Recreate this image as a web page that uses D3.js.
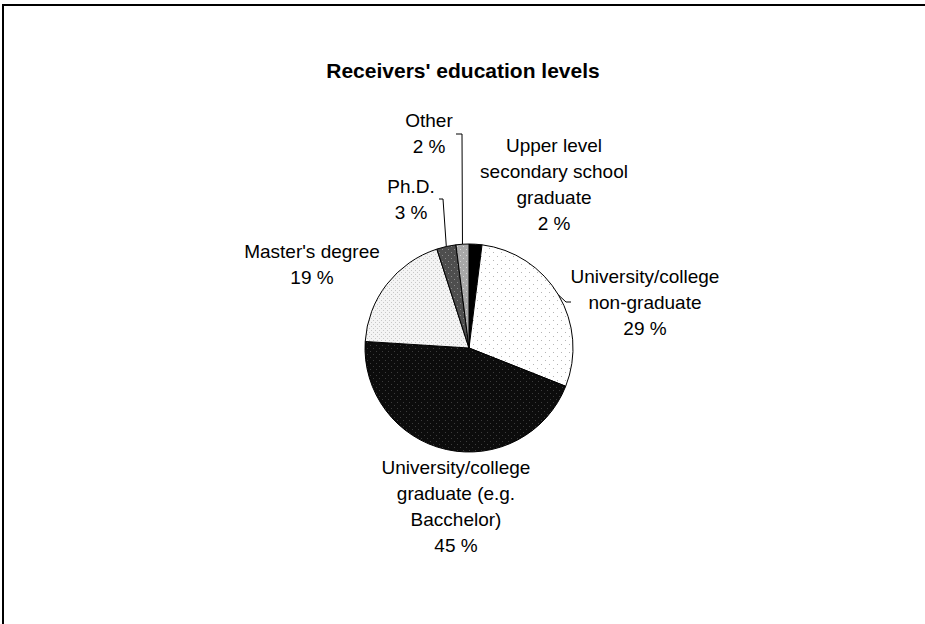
<!DOCTYPE html>
<html>
<head>
<meta charset="utf-8">
<script src="https://cdn.jsdelivr.net/npm/d3@7"></script>
<style>
  html, body { margin: 0; padding: 0; background: #fff; }
  svg { display: block; }
  text { font-family: "Liberation Sans", Arial, sans-serif; fill: #000; }
</style>
</head>
<body>
<svg id="chart" width="925" height="624"></svg>
<script>
// Education levels of receivers, in pie order (clockwise from 12 o'clock)
const categories = [
  "Upper level secondary school graduate",
  "University/college non-graduate",
  "University/college graduate (e.g. Bacchelor)",
  "Master's degree",
  "Ph.D.",
  "Other"
];
const shares = [2, 29, 45, 19, 3, 2];

// Label lines as they are broken in the chart
const labelLines = [
  ["Upper level", "secondary school", "graduate"],
  ["University/college", "non-graduate"],
  ["University/college", "graduate (e.g.", "Bacchelor)"],
  ["Master's degree"],
  ["Ph.D."],
  ["Other"]
];

const title = "Receivers' education levels";

const svg = d3.select("#chart");
const W = 925, H = 624;
const cx = 469, cy = 348, R = 104;

// Fill patterns (grey-scale dotted textures)
const defs = svg.append("defs");
const patternSpecs = [
  { id: "p0", bg: "#000000", dot: "#000000", step: 2 },
  { id: "p1", bg: "#ffffff", dot: "#b4b4b4", step: 4 },
  { id: "p2", bg: "#0c0c0c", dot: "#3c3c3c", step: 3 },
  { id: "p3", bg: "#f4f4f4", dot: "#c8c8c8", step: 2 },
  { id: "p4", bg: "#4e4e4e", dot: "#8a8a8a", step: 3 },
  { id: "p5", bg: "#a8a8a8", dot: "#d8d8d8", step: 3 }
];
patternSpecs.forEach(p => {
  const pat = defs.append("pattern")
    .attr("id", p.id)
    .attr("patternUnits", "userSpaceOnUse")
    .attr("width", p.step * 2).attr("height", p.step * 2);
  pat.append("rect").attr("width", p.step * 2).attr("height", p.step * 2).attr("fill", p.bg);
  pat.append("rect").attr("x", 0).attr("y", 0).attr("width", 1).attr("height", 1).attr("fill", p.dot);
  pat.append("rect").attr("x", p.step).attr("y", p.step).attr("width", 1).attr("height", 1).attr("fill", p.dot);
});

// Chart frame (top and left edges)
svg.append("path")
  .attr("d", `M3,${H} V5 H${W}`)
  .attr("fill", "none")
  .attr("stroke", "#000")
  .attr("stroke-width", 2);

// Title
svg.append("text")
  .attr("x", 463).attr("y", 78)
  .attr("text-anchor", "middle")
  .attr("font-size", 21)
  .attr("font-weight", "bold")
  .text(title);

const data = categories.map((c, i) => ({ name: c, value: shares[i], i }));

const pie = d3.pie()
  .sort(null)
  .value(d => d.value)
  .startAngle(0)
  .endAngle(2 * Math.PI);

const arc = d3.arc().innerRadius(0).outerRadius(R);
const arcs = pie(data);

const g = svg.append("g").attr("transform", `translate(${cx},${cy})`);

g.selectAll("path.slice")
  .data(arcs)
  .join("path")
  .attr("class", "slice")
  .attr("d", arc)
  .attr("fill", d => `url(#p${d.data.i})`)
  .attr("stroke", "#000")
  .attr("stroke-width", 1)
  .attr("stroke-linejoin", "round");

// Label placement: centre x and first baseline for each category
const labelPos = [
  { x: 554, y: 152 },
  { x: 645, y: 283 },
  { x: 456, y: 474 },
  { x: 312, y: 258 },
  { x: 411, y: 193 },
  { x: 429, y: 127 }
];
const lineH = 26;

arcs.forEach((a, k) => {
  const p = labelPos[k];
  const lines = labelLines[k].concat([`${a.data.value} %`]);
  const t = svg.append("text")
    .attr("text-anchor", "middle")
    .attr("font-size", 19);
  lines.forEach((ln, j) => {
    t.append("tspan").attr("x", p.x).attr("y", p.y + j * lineH).text(ln);
  });
});

// Leader lines from labels to slice rims
function rimPoint(a) {
  const m = (a.startAngle + a.endAngle) / 2;
  return [cx + R * Math.sin(m), cy - R * Math.cos(m)];
}
const leaders = [
  { k: 5, from: [456, 134], elbow: [462, 134] },
  { k: 4, from: [439, 199], elbow: [443, 199] },
  { k: 1, from: [571, 302], elbow: [566, 302] }
];
leaders.forEach(l => {
  const r = rimPoint(arcs[l.k]);
  svg.append("path")
    .attr("d", d3.line()([l.from, l.elbow, r]))
    .attr("fill", "none")
    .attr("stroke", "#000")
    .attr("stroke-width", 1);
});
</script>
</body>
</html>
